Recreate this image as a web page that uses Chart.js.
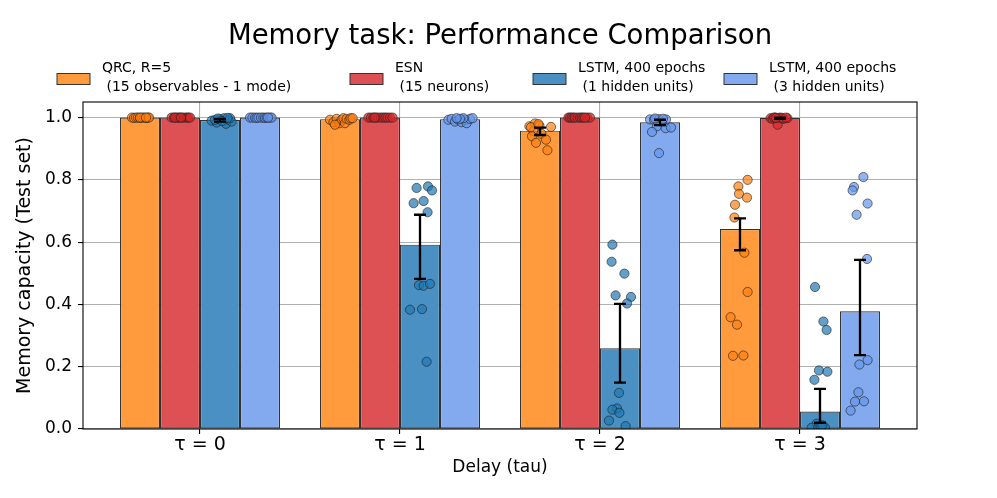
<!DOCTYPE html>
<html>
<head>
<meta charset="utf-8">
<script src="https://cdn.jsdelivr.net/npm/chart.js@4.4.1/dist/chart.umd.min.js"></script>
<style>
  body { margin: 0; background: #fff; }
  #wrap { width: 997px; height: 498px; }
</style>
</head>
<body>
<div id="wrap"><canvas id="memory-chart"></canvas></div>
<script>
const delays = [0, 1, 2, 3];
const delayLabels = ['τ = 0', 'τ = 1', 'τ = 2', 'τ = 3'];
const yTicks = [0, 0.2, 0.4, 0.6, 0.8, 1.0];

const legendText = [
    ['QRC, R=5', ' (15 observables - 1 mode)'],
    ['ESN', ' (15 neurons)'],
    ['LSTM, 400 epochs', ' (1 hidden units)'],
    ['LSTM, 400 epochs', ' (3 hidden units)']
];

// bar heights per delay
const qrcBars = [1.0, 0.995, 0.958, 0.642];
const esnBars = [1.0, 1.0, 1.0, 0.999];
const lstm1Bars = [0.992, 0.592, 0.259, 0.056];
const lstm3Bars = [1.0, 0.995, 0.985, 0.378];

// error bar [low, high] per delay, null = none visible
const qrcErr = [null, null, [0.944, 0.968], [0.574, 0.676]];
const esnErr = [null, null, null, [0.996, 1.0]];
const lstm1Err = [[0.987, 0.996], [0.482, 0.688], [0.149, 0.402], [0.020, 0.129]];
const lstm3Err = [null, null, [0.976, 0.993], [0.237, 0.543]];

// single runs [x, y]
const qrcDots = [
    [-0.34, 1.0], [-0.33, 0.999], [-0.32, 1.0], [-0.31, 1.0], [-0.30, 0.999], [-0.29, 1.0],
    [-0.28, 1.0], [-0.27, 0.999], [-0.26, 1.0], [-0.255, 1.0], [-0.30, 1.0], [-0.27, 1.0],
    [0.650, 0.993], [0.667, 0.985], [0.683, 0.996], [0.697, 0.982], [0.708, 0.993], [0.717, 0.998],
    [0.725, 0.982], [0.733, 0.996], [0.747, 0.993], [0.753, 0.998], [0.763, 0.998], [0.675, 0.977],
    [1.647, 0.972], [1.675, 0.981], [1.697, 0.974], [1.755, 0.970], [1.667, 0.956], [1.660, 0.940],
    [1.707, 0.948], [1.730, 0.929], [1.680, 0.919], [1.737, 0.895], [1.655, 0.969], [1.692, 0.979],
    [2.738, 0.800], [2.692, 0.779], [2.695, 0.755], [2.735, 0.743], [2.675, 0.720], [2.672, 0.679],
    [2.722, 0.566], [2.738, 0.440], [2.653, 0.359], [2.685, 0.335], [2.665, 0.235], [2.717, 0.236]
];
const esnDots = [
    [-0.142, 1.0], [-0.130, 1.0], [-0.117, 1.0], [-0.108, 1.0], [-0.100, 1.0], [-0.088, 1.0],
    [-0.075, 1.0], [-0.065, 1.0], [-0.058, 1.0], [-0.050, 1.0], [-0.125, 1.0], [-0.095, 1.0],
    [0.842, 1.0], [0.855, 1.0], [0.867, 1.0], [0.880, 1.0], [0.892, 1.0], [0.905, 1.0],
    [0.917, 1.0], [0.927, 1.0], [0.937, 1.0], [0.950, 1.0], [0.963, 1.0], [0.873, 1.0],
    [1.842, 1.0], [1.850, 1.0], [1.858, 1.0], [1.867, 1.0], [1.875, 1.0], [1.888, 1.0],
    [1.900, 1.0], [1.908, 1.0], [1.917, 1.0], [1.937, 1.0], [1.950, 1.0], [1.925, 1.0],
    [2.853, 0.998], [2.863, 0.996], [2.875, 1.0], [2.892, 0.998], [2.888, 0.977], [2.917, 0.996],
    [2.937, 0.998], [2.870, 1.0], [2.900, 1.0], [2.910, 0.999], [2.930, 1.0], [2.880, 0.999]
];
const lstm1Dots = [
    [0.058, 0.990], [0.083, 0.984], [0.100, 0.995], [0.130, 0.980], [0.142, 0.993], [0.158, 0.987],
    [0.120, 0.998], [0.150, 0.998], [0.075, 0.993], [0.090, 0.997], [0.110, 0.989], [0.138, 0.999],
    [1.083, 0.774], [1.140, 0.779], [1.160, 0.766], [1.068, 0.725], [1.118, 0.732], [1.138, 0.696],
    [1.095, 0.462], [1.118, 0.460], [1.150, 0.466], [1.050, 0.383], [1.110, 0.385], [1.133, 0.216],
    [2.062, 0.592], [2.058, 0.537], [2.122, 0.499], [2.078, 0.429], [2.155, 0.424], [2.135, 0.403],
    [2.095, 0.116], [2.085, 0.066], [2.062, 0.062], [2.097, 0.052], [2.045, 0.027], [2.128, 0.009],
    [3.075, 0.456], [3.117, 0.345], [3.133, 0.318], [3.095, 0.188], [3.137, 0.184], [3.072, 0.158],
    [3.083, 0.017], [3.058, 0.004], [3.092, 0.006], [3.125, 0.004], [3.103, 0.009], [3.112, 0.012]
];
const lstm3Dots = [
    [0.250, 1.0], [0.262, 1.0], [0.275, 1.0], [0.283, 0.999], [0.292, 1.0], [0.305, 1.0],
    [0.317, 1.0], [0.325, 0.999], [0.333, 1.0], [0.350, 1.0], [0.358, 1.0], [0.340, 1.0],
    [1.242, 0.993], [1.258, 0.996], [1.275, 0.987], [1.292, 0.993], [1.308, 0.985], [1.325, 0.993],
    [1.333, 0.982], [1.350, 0.996], [1.363, 0.998], [1.317, 0.998], [1.300, 0.996], [1.283, 0.998],
    [2.250, 0.994], [2.270, 0.993], [2.295, 0.995], [2.330, 0.994], [2.310, 0.985], [2.285, 0.972],
    [2.328, 0.966], [2.355, 0.968], [2.260, 0.954], [2.295, 0.886], [2.275, 0.997], [2.315, 0.996],
    [3.317, 0.809], [3.270, 0.777], [3.263, 0.766], [3.338, 0.724], [3.283, 0.688], [3.335, 0.546],
    [3.338, 0.221], [3.297, 0.207], [3.292, 0.118], [3.275, 0.088], [3.320, 0.089], [3.253, 0.059]
];

const barColors = ['#ff9a3d', '#dd5154', '#4a90c3', '#83aaee'];
const dotColors = ['rgba(255,127,14,0.7)', 'rgba(214,39,40,0.7)', 'rgba(31,119,180,0.7)', 'rgba(100,149,237,0.7)'];

const FONT = "'DejaVu Sans'";
Chart.defaults.font.family = FONT;
Chart.defaults.color = '#000';

function barSet(values, errs, color) {
    return {
        type: 'bar',
        data: delays.map((d, i) => ({ x: d, y: values[i] })),
        errs: errs,
        backgroundColor: color,
        borderColor: '#333',
        borderWidth: 1.2,
        borderSkipped: false,
        categoryPercentage: 0.8,
        barPercentage: 1.0,
        order: 2
    };
}

function dotSet(dots, color) {
    return {
        type: 'scatter',
        data: dots.map(p => ({ x: p[0], y: p[1] })),
        backgroundColor: color,
        borderColor: 'rgba(30,30,30,0.75)',
        borderWidth: 0.8,
        pointRadius: 4.6,
        order: 1
    };
}

const errorBars = {
    id: 'errorBars',
    afterDatasetsDraw(chart) {
        const ctx = chart.ctx;
        const yScale = chart.scales.y;
        ctx.save();
        ctx.strokeStyle = '#000';
        ctx.lineWidth = 2.3;
        chart.data.datasets.forEach((ds, di) => {
            if (!ds.errs) return;
            chart.getDatasetMeta(di).data.forEach((bar, i) => {
                if (!ds.errs[i]) return;
                const lo = yScale.getPixelForValue(ds.errs[i][0]);
                const hi = yScale.getPixelForValue(ds.errs[i][1]);
                ctx.beginPath();
                ctx.moveTo(bar.x, lo); ctx.lineTo(bar.x, hi);
                ctx.moveTo(bar.x - 6, lo); ctx.lineTo(bar.x + 6, lo);
                ctx.moveTo(bar.x - 6, hi); ctx.lineTo(bar.x + 6, hi);
                ctx.stroke();
            });
        });
        ctx.restore();
    }
};

const frame = {
    id: 'frame',
    afterDraw(chart) {
        const ctx = chart.ctx;
        const a = chart.chartArea;
        ctx.save();
        // spines
        ctx.strokeStyle = '#000';
        ctx.lineWidth = 1.1;
        ctx.strokeRect(a.left, a.top, a.right - a.left, a.bottom - a.top);

        // title
        ctx.fillStyle = '#000';
        ctx.textAlign = 'center';
        ctx.textBaseline = 'middle';
        ctx.font = '27.5px ' + FONT;
        ctx.fillText('Memory task: Performance Comparison', (a.left + a.right) / 2, 37);

        // legend
        const boxX = [57, 350, 533, 724];
        ctx.font = '14px ' + FONT;
        ctx.textAlign = 'left';
        legendText.forEach((lines, k) => {
            ctx.fillStyle = barColors[k];
            ctx.fillRect(boxX[k], 73.5, 33, 11);
            ctx.strokeStyle = '#333';
            ctx.lineWidth = 1;
            ctx.strokeRect(boxX[k], 73.5, 33, 11);
            ctx.fillStyle = '#000';
            ctx.fillText(lines[0], boxX[k] + 45, 68.5);
            ctx.fillText(lines[1], boxX[k] + 45, 87);
        });
        ctx.restore();
    }
};

new Chart(document.getElementById('memory-chart'), {
    type: 'bar',
    data: {
        datasets: [
            barSet(qrcBars, qrcErr, barColors[0]),
            barSet(esnBars, esnErr, barColors[1]),
            barSet(lstm1Bars, lstm1Err, barColors[2]),
            barSet(lstm3Bars, lstm3Err, barColors[3]),
            dotSet(qrcDots, dotColors[0]),
            dotSet(esnDots, dotColors[1]),
            dotSet(lstm1Dots, dotColors[2]),
            dotSet(lstm3Dots, dotColors[3])
        ]
    },
    options: {
        responsive: true,
        maintainAspectRatio: false,
        animation: false,
        events: [],
        layout: { padding: { top: 102, right: 80, bottom: 0, left: 0 } },
        plugins: {
            legend: { display: false },
            title: { display: false },
            tooltip: { enabled: false }
        },
        scales: {
            x: {
                type: 'linear',
                min: -0.585,
                max: 3.585,
                offset: false,
                afterBuildTicks: s => { s.ticks = delays.map(v => ({ value: v })); },
                afterFit: s => { s.height = 69; },
                grid: { offset: false, color: '#b0b0b0', lineWidth: 1.1, tickLength: 5, tickColor: '#000' },
                border: { display: false },
                ticks: {
                    padding: 0,
                    font: { size: 19 },
                    callback: (v) => delayLabels[delays.indexOf(v)]
                },
                title: { display: true, text: 'Delay (tau)', font: { size: 17 }, padding: { top: 0, bottom: 20 } }
            },
            y: {
                min: 0,
                max: 1.05,
                afterBuildTicks: s => { s.ticks = yTicks.map(v => ({ value: v })); },
                afterFit: s => { s.width = 83; },
                grid: { color: '#b0b0b0', lineWidth: 1.1, tickLength: 5, tickColor: '#000' },
                border: { display: false },
                ticks: {
                    padding: 6,
                    font: { size: 17 },
                    callback: v => v.toFixed(1)
                },
                title: { display: true, text: 'Memory capacity (Test set)', font: { size: 19 }, padding: { top: 13.6, bottom: 0 } }
            }
        }
    },
    plugins: [errorBars, frame]
});
</script>
</body>
</html>
